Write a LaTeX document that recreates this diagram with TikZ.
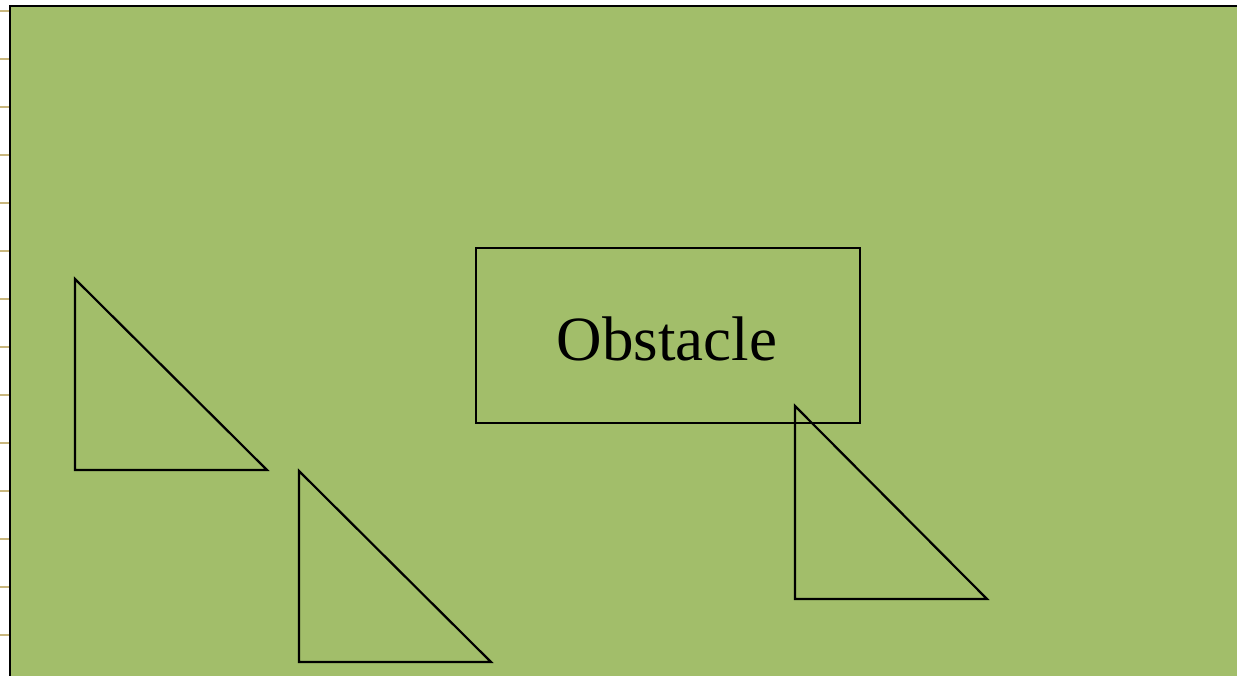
\documentclass[tikz,border=0pt]{standalone}
\usepackage{fontspec}
\setmainfont{Liberation Serif}
\definecolor{fieldgreen}{RGB}{162,190,106}
\definecolor{ticktan}{RGB}{200,182,124}
\begin{document}
\begin{tikzpicture}[x=1pt,y=-1pt,
  shape line/.style={draw=black,line width=2.2pt,line join=miter},
  tickmark/.style={draw=ticktan,line width=2.5pt}]
\useasboundingbox (0,0) rectangle (1237,676);
\begin{scope}
\clip (0,0) rectangle (1237,676);
\fill[fieldgreen] (10,6) rectangle (1260,700);
\draw[black,line width=2.5pt] (10,700) -- (10,6) -- (1260,6);
\foreach \y in {11,59,...,635} {
  \draw[tickmark] (0,\y) -- (9,\y);
}
\end{scope}
\node[shape line,minimum width=384pt,minimum height=175pt,inner sep=0pt,anchor=north west] (obstacle) at (475,247) {};
\node (label) at (obstacle.center) [font=\fontsize{63}{70}\selectfont,xshift=-1pt,yshift=-3pt] {Obstacle};
\draw[shape line] (75,279) coordinate (t1a) -- (75,470) coordinate (t1b) -- (267,470) coordinate (t1c) -- cycle;
\draw[shape line] (299,471) coordinate (t2a) -- (299,662) coordinate (t2b) -- (491,662) coordinate (t2c) -- cycle;
\draw[shape line] (795,406) coordinate (t3a) -- (795,599) coordinate (t3b) -- (987,599) coordinate (t3c) -- cycle;
\end{tikzpicture}
\end{document}
